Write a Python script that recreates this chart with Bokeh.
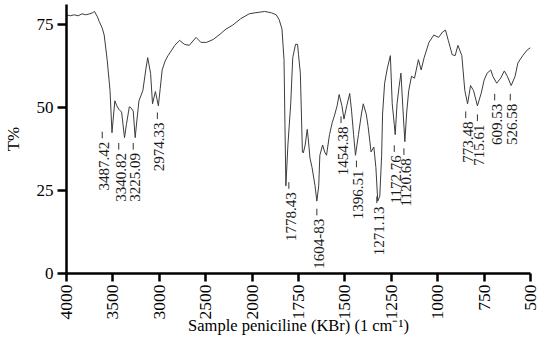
import math
from bokeh.plotting import figure
from bokeh.models import Range1d, FixedTicker, ColumnDataSource
from bokeh.embed import file_html
from bokeh.resources import INLINE
from bokeh.core.properties import value

# ---- data ----
wavenumber = [4000, 3958, 3917, 3875, 3833, 3792, 3750, 3719, 3698, 3667, 3646, 3615, 3594,
              3562, 3531, 3510, 3479, 3458, 3437, 3406, 3375, 3354, 3323, 3302, 3281, 3260,
              3240, 3219, 3177, 3146, 3125, 3094, 3073, 3042, 3010, 2990, 2969, 2937, 2906,
              2833, 2781, 2729, 2677, 2604, 2552, 2490, 2417, 2344, 2281, 2208, 2125, 2031,
              1984, 1932, 1896, 1870, 1854, 1839, 1828, 1823, 1818, 1807, 1792, 1781, 1766,
              1755, 1750, 1740, 1729, 1724, 1714, 1703, 1698, 1688, 1677, 1661, 1651, 1641,
              1635, 1620, 1609, 1599, 1583, 1568, 1557, 1542, 1531, 1516, 1505, 1490, 1474,
              1464, 1453, 1443, 1427, 1411, 1401, 1385, 1375, 1359, 1344, 1333, 1323, 1312,
              1302, 1297, 1286, 1271, 1255, 1245, 1234, 1229, 1219, 1208, 1198, 1188, 1177,
              1167, 1156, 1141, 1125, 1104, 1089, 1073, 1047, 1021, 995, 974, 958, 943, 922,
              906, 891, 870, 854, 839, 823, 807, 786, 766, 750, 734, 714, 703, 682, 661, 641,
              625, 604, 583, 568, 542, 516, 500]
transmittance = [77.9, 77.6, 77.9, 77.6, 78.2, 77.9, 78.2, 78.5, 78.9, 77.3, 75.8, 73.9, 71.8,
                 64.4, 55.1, 42.4, 52.0, 50.5, 49.5, 48.6, 40.9, 44.9, 50.2, 49.8, 48.9, 40.9,
                 46.5, 52.0, 55.1, 61.3, 65.0, 60.3, 51.1, 54.8, 50.5, 55.7, 61.3, 64.0, 65.6,
                 68.7, 70.2, 69.0, 68.7, 71.1, 69.6, 69.6, 70.5, 72.1, 73.6, 74.8, 76.7, 78.2,
                 78.5, 78.9, 78.5, 77.9, 76.4, 73.6, 64.4, 44.9, 26.4, 38.7, 51.1, 65.0, 69.0,
                 69.0, 65.9, 60.3, 36.6, 36.3, 38.7, 43.4, 40.9, 34.7, 31.9, 26.4, 21.8, 26.4,
                 35.6, 38.7, 36.6, 35.6, 41.8, 45.5, 47.4, 50.5, 53.9, 50.5, 46.5, 50.5, 54.2,
                 48.9, 41.8, 35.6, 41.8, 48.0, 51.1, 48.0, 44.3, 36.6, 38.1, 31.9, 21.8, 23.3,
                 35.6, 48.0, 57.3, 61.9, 65.6, 51.1, 44.9, 41.8, 51.1, 56.3, 60.3, 50.2, 39.7,
                 48.6, 55.1, 59.4, 58.8, 64.4, 61.3, 65.0, 69.6, 71.8, 71.1, 72.7, 73.3, 70.2, 65.9,
                 65.6, 68.7, 65.6, 55.1, 51.1, 56.6, 55.1, 50.5, 54.2, 58.2, 60.3, 61.3, 59.4,
                 57.3, 58.8, 61.0, 59.4, 56.6, 59.4, 63.4, 65.6, 67.4, 68.0]

peak_labels = ["3487.42", "3340.82", "3225.09", "2974.33", "1778.43", "1604-83", "1454.38",
               "1396.51", "1271.13", "1172.76", "1120.68", "773.48", "715.61", "609.53", "526.58"]
peak_label_wn = [3615, 3437, 3281, 3021, 1802, 1651, 1521, 1438, 1328, 1234, 1182, 849, 786, 693, 609]
peak_label_top = [39.7, 36.3, 36.3, 45.5, 24.5, 16.5, 44.3, 31.0, 20.2, 35.6, 34.7, 45.8, 44.9, 51.1, 51.1]

x_tick_wn = [4000, 3500, 3000, 2500, 2000, 1750, 1500, 1250, 1000, 750, 500]
y_ticks = [0, 25, 50, 75]


def to_axis(w):
    """IR abscissa: scale doubles below 2000 cm-1."""
    return 4000 - w if w >= 2000 else 2000 + 2 * (2000 - w)


SERIF = "Liberation Serif"

p = figure(width=541, height=337, output_backend="svg", toolbar_location=None,
           x_range=Range1d(0, 5000), y_range=Range1d(0, 81),
           min_border_left=60, min_border_right=11, min_border_top=4, min_border_bottom=60)
p.outline_line_color = None
p.grid.visible = False
p.background_fill_color = "white"

spec = ColumnDataSource(dict(x=[to_axis(w) for w in wavenumber], y=transmittance))
p.line("x", "y", source=spec, line_color="#3c3c3c", line_width=1.0)

lab = ColumnDataSource(dict(x=[to_axis(w) for w in peak_label_wn], y=peak_label_top,
                            t=peak_labels,
                            y0=[v + 1.0 for v in peak_label_top],
                            y1=[v + 3.0 for v in peak_label_top]))
p.text("x", "y", text="t", source=lab, angle=math.pi / 2, text_align="right",
       text_baseline="middle", x_offset=2, text_font=value(SERIF), text_font_size="15px",
       text_color="#1a1a1a")
p.segment(x0="x", y0="y0", x1="x", y1="y1", source=lab, line_color="#333333", line_width=1)

# x axis
xa = p.xaxis[0]
xa.ticker = FixedTicker(ticks=[to_axis(w) for w in x_tick_wn])
xa.major_label_overrides = {to_axis(w): str(w) for w in x_tick_wn}
xa.major_label_orientation = math.pi / 2
xa.minor_tick_line_color = None
xa.major_tick_out = 8
xa.major_tick_in = 0
xa.major_tick_line_width = 2.5
xa.axis_line_width = 2.5
xa.axis_line_color = "black"
xa.major_tick_line_color = "black"
xa.major_label_standoff = 3
xa.major_label_text_font = SERIF
xa.major_label_text_font_size = "17.5px"
xa.major_label_text_color = "black"
xa.axis_label = "Sample peniciline (KBr) (1 cm\u207b\u00b9)"
xa.axis_label_text_font = SERIF
xa.axis_label_text_font_size = "16.5px"
xa.axis_label_text_font_style = "normal"
xa.axis_label_text_color = "black"
xa.axis_label_standoff = -7

# y axis
ya = p.yaxis[0]
ya.ticker = FixedTicker(ticks=y_ticks)
ya.minor_tick_line_color = None
ya.major_tick_out = 9
ya.major_tick_in = 0
ya.major_tick_line_width = 2.5
ya.axis_line_width = 2.5
ya.axis_line_color = "black"
ya.major_tick_line_color = "black"
ya.major_label_standoff = 4
ya.major_label_text_font = SERIF
ya.major_label_text_font_size = "17px"
ya.major_label_text_color = "black"
ya.axis_label = "T%"
ya.axis_label_text_font = SERIF
ya.axis_label_text_font_size = "17px"
ya.axis_label_text_font_style = "normal"
ya.axis_label_text_color = "black"
ya.axis_label_standoff = 11

open("out.html", "w").write(file_html(p, INLINE))
